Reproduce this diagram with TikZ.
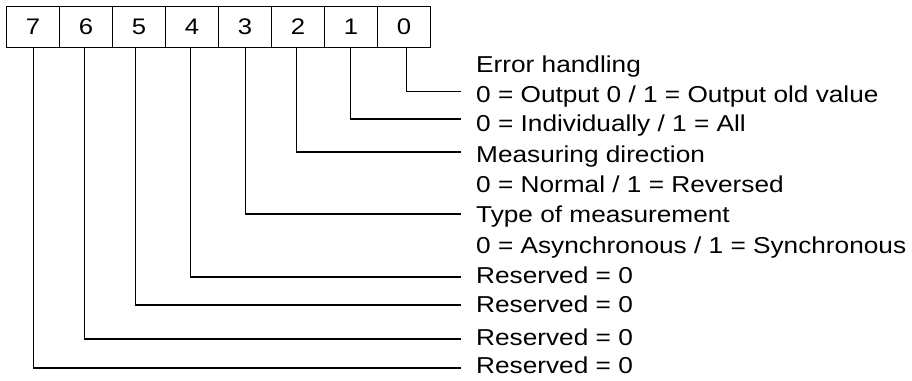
\documentclass[tikz,border=0pt]{standalone}
\usepackage{fontspec}
\setmainfont[FakeStretch=1.14]{Liberation Sans}
\begin{document}
\begin{tikzpicture}[x=1pt,y=-1pt,
  bitbox/.style={draw=black,line width=1.1pt,minimum width=53pt,minimum height=41pt,inner sep=0pt,anchor=north west,font=\fontsize{22.5}{25}\selectfont},
  desc/.style={anchor=base west,inner sep=0pt,font=\fontsize{23}{26}\selectfont},
  conn/.style={line width=1.1pt,black}]
\useasboundingbox (0,0) rectangle (912,380);
% bit boxes
\node[bitbox] (b7) at (6,5.5) {7};
\node[bitbox] (b6) at (59,5.5) {6};
\node[bitbox] (b5) at (112,5.5) {5};
\node[bitbox] (b4) at (165,5.5) {4};
\node[bitbox] (b3) at (218,5.5) {3};
\node[bitbox] (b2) at (271,5.5) {2};
\node[bitbox] (b1) at (324,5.5) {1};
\node[bitbox] (b0) at (377,5.5) {0};
% descriptions (baselines)
\node[desc] (t0) at (476,72) {Error handling};
\node[desc] (t1) at (476,102) {0 = Output 0 / 1 = Output old value};
\node[desc] (t2) at (476,131) {0 = Individually / 1 = All};
\node[desc] (t3) at (476,162) {Measuring direction};
\node[desc] (t4) at (476,192) {0 = Normal / 1 = Reversed};
\node[desc] (t5) at (476,222) {Type of measurement};
\node[desc] (t6) at (476,253) {0 = Asynchronous / 1 = Synchronous};
\node[desc] (t7) at (476,283) {Reserved = 0};
\node[desc] (t8) at (476,312) {Reserved = 0};
\node[desc] (t9) at (476,345) {Reserved = 0};
\node[desc] (t10) at (476,373) {Reserved = 0};
% connector end points
\coordinate (e0) at (461,91.5);
\coordinate (e1) at (461,119);
\coordinate (e2) at (461,152);
\coordinate (e3) at (461,214);
\coordinate (e4) at (461,277);
\coordinate (e5) at (461,305);
\coordinate (e6) at (461,339);
\coordinate (e7) at (461,368);
% connectors
\draw[conn] ([xshift=2.5pt]b0.south) |- (e0);
\draw[conn] ([xshift=-1pt]b1.south) |- (e1);
\draw[conn] ([xshift=-1.5pt]b2.south) |- (e2);
\draw[conn] ([xshift=0.5pt]b3.south) |- (e3);
\draw[conn] ([xshift=-1.5pt]b4.south) |- (e4);
\draw[conn] ([xshift=-3.5pt]b5.south) |- (e5);
\draw[conn] ([xshift=-1.5pt]b6.south) |- (e6);
\draw[conn] (b7.south) |- (e7);
\end{tikzpicture}
\end{document}
